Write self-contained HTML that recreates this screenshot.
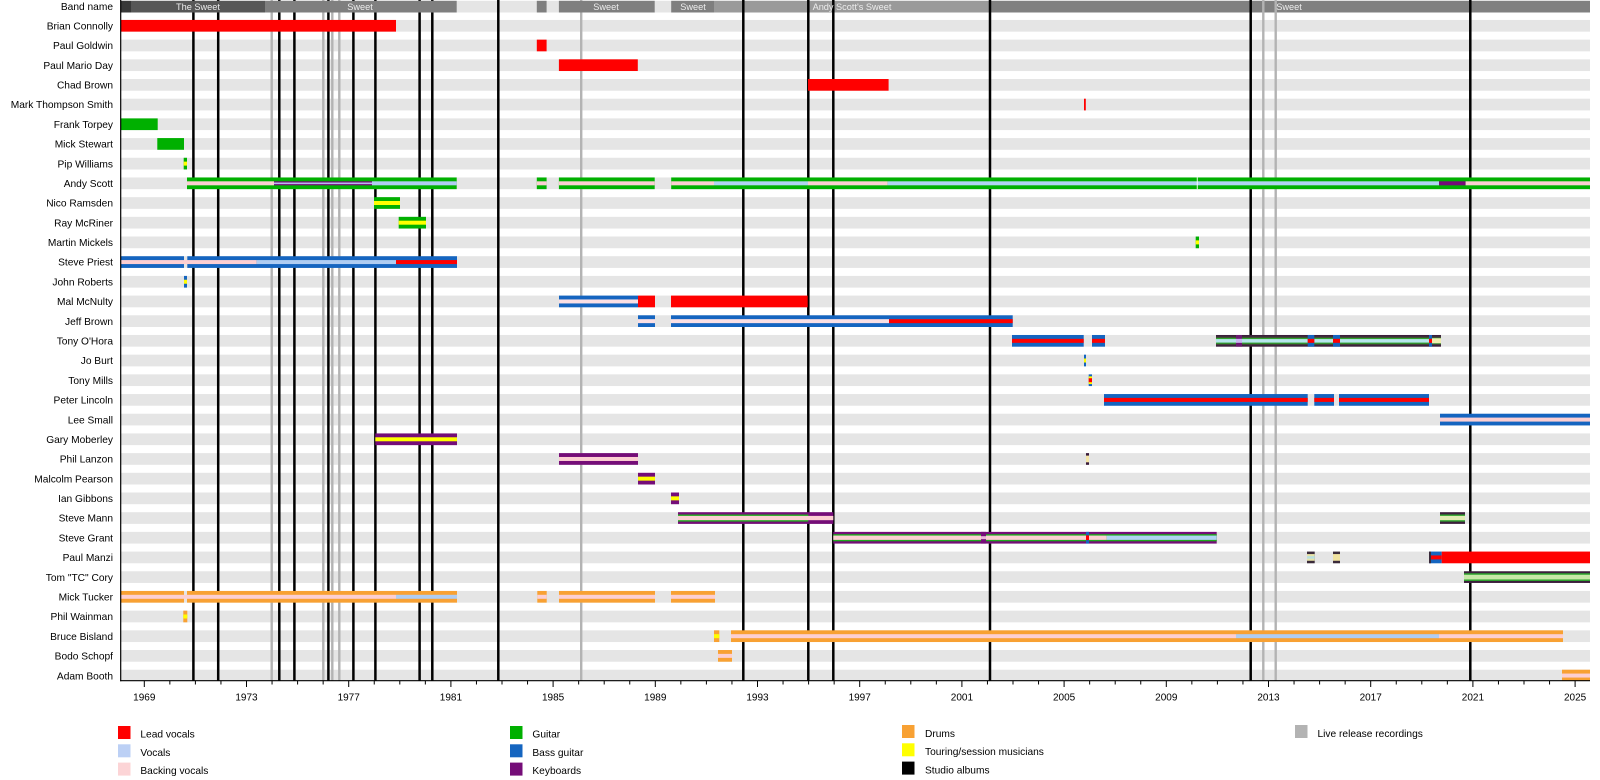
<!DOCTYPE html>
<html><head><meta charset="utf-8"><style>
html,body{margin:0;padding:0;background:#fff;}
svg{display:block;}
text{font-family:"Liberation Sans",Arial,sans-serif;}
</style></head><body>
<svg width="1600" height="780" viewBox="0 0 1600 780" xmlns="http://www.w3.org/2000/svg">
<rect width="1600" height="780" fill="#fff"/>
<!-- row bands -->
<g fill="#e5e5e5">
<rect x="120.7" y="0.8" width="1469.3" height="11.7"/>
<rect x="120.7" y="19.94" width="1469.3" height="11.7"/>
<rect x="120.7" y="39.63" width="1469.3" height="11.7"/>
<rect x="120.7" y="59.32" width="1469.3" height="11.7"/>
<rect x="120.7" y="79.01" width="1469.3" height="11.7"/>
<rect x="120.7" y="98.70" width="1469.3" height="11.7"/>
<rect x="120.7" y="118.39" width="1469.3" height="11.7"/>
<rect x="120.7" y="138.08" width="1469.3" height="11.7"/>
<rect x="120.7" y="157.77" width="1469.3" height="11.7"/>
<rect x="120.7" y="177.46" width="1469.3" height="11.7"/>
<rect x="120.7" y="197.15" width="1469.3" height="11.7"/>
<rect x="120.7" y="216.84" width="1469.3" height="11.7"/>
<rect x="120.7" y="236.53" width="1469.3" height="11.7"/>
<rect x="120.7" y="256.22" width="1469.3" height="11.7"/>
<rect x="120.7" y="275.91" width="1469.3" height="11.7"/>
<rect x="120.7" y="295.60" width="1469.3" height="11.7"/>
<rect x="120.7" y="315.29" width="1469.3" height="11.7"/>
<rect x="120.7" y="334.98" width="1469.3" height="11.7"/>
<rect x="120.7" y="354.67" width="1469.3" height="11.7"/>
<rect x="120.7" y="374.36" width="1469.3" height="11.7"/>
<rect x="120.7" y="394.05" width="1469.3" height="11.7"/>
<rect x="120.7" y="413.74" width="1469.3" height="11.7"/>
<rect x="120.7" y="433.43" width="1469.3" height="11.7"/>
<rect x="120.7" y="453.12" width="1469.3" height="11.7"/>
<rect x="120.7" y="472.81" width="1469.3" height="11.7"/>
<rect x="120.7" y="492.50" width="1469.3" height="11.7"/>
<rect x="120.7" y="512.19" width="1469.3" height="11.7"/>
<rect x="120.7" y="531.88" width="1469.3" height="11.7"/>
<rect x="120.7" y="551.57" width="1469.3" height="11.7"/>
<rect x="120.7" y="571.26" width="1469.3" height="11.7"/>
<rect x="120.7" y="590.95" width="1469.3" height="11.7"/>
<rect x="120.7" y="610.64" width="1469.3" height="11.7"/>
<rect x="120.7" y="630.33" width="1469.3" height="11.7"/>
<rect x="120.7" y="650.02" width="1469.3" height="11.7"/>
<rect x="120.7" y="669.71" width="1469.3" height="11.0"/>
</g>
<!-- band bars (later era, under lines) -->
<g transform="translate(0,0.8)">
<rect x="714" width="276.4" height="11.7" fill="#9a9a9a"/>
<rect x="990.4" width="599.6" height="11.7" fill="#808080"/>
</g>
<!-- vertical lines: live releases (gray) -->
<g stroke="#b3b3b3" stroke-width="2.4">
<line x1="271.7" y1="0" x2="271.7" y2="680.7"/>
<line x1="323.3" y1="0" x2="323.3" y2="680.7"/>
<line x1="332.3" y1="0" x2="332.3" y2="680.7"/>
<line x1="339.3" y1="0" x2="339.3" y2="680.7"/>
<line x1="581.2" y1="0" x2="581.2" y2="680.7"/>
<line x1="1263.3" y1="0" x2="1263.3" y2="680.7"/>
<line x1="1275.7" y1="0" x2="1275.7" y2="680.7"/>
</g>
<!-- studio albums (black) -->
<g stroke="#000" stroke-width="2.5">
<line x1="193.4" y1="0" x2="193.4" y2="680.7"/>
<line x1="218.2" y1="0" x2="218.2" y2="680.7"/>
<line x1="279.3" y1="0" x2="279.3" y2="680.7"/>
<line x1="294.4" y1="0" x2="294.4" y2="680.7"/>
<line x1="328.4" y1="0" x2="328.4" y2="680.7"/>
<line x1="353.4" y1="0" x2="353.4" y2="680.7"/>
<line x1="375.4" y1="0" x2="375.4" y2="680.7"/>
<line x1="419.6" y1="0" x2="419.6" y2="680.7"/>
<line x1="432.3" y1="0" x2="432.3" y2="680.7"/>
<line x1="498.3" y1="0" x2="498.3" y2="680.7"/>
<line x1="743.3" y1="0" x2="743.3" y2="680.7"/>
<line x1="808.3" y1="0" x2="808.3" y2="680.7"/>
<line x1="833.3" y1="0" x2="833.3" y2="680.7"/>
<line x1="990" y1="0" x2="990" y2="680.7"/>
<line x1="1250.7" y1="0" x2="1250.7" y2="680.7"/>
<line x1="1470.3" y1="0" x2="1470.3" y2="680.7"/>
</g>
<!-- band bars (early era, over lines) -->
<g transform="translate(0,0.8)">
<rect x="120.7" width="11" height="11.7" fill="#383838"/>
<rect x="131.7" width="133.3" height="11.7" fill="#575757"/>
<rect x="265" width="191.7" height="11.7" fill="#7f7f7f"/>
<rect x="536.8" width="9.8" height="11.7" fill="#7f7f7f"/>
<rect x="558.9" width="95.8" height="11.7" fill="#7f7f7f"/>
<rect x="671.2" width="42.8" height="11.7" fill="#7f7f7f"/>
</g>
<g font-size="9.2" fill="#ececec" text-anchor="middle">
<text x="198" y="10">The Sweet</text>
<text x="360" y="10">Sweet</text>
<text x="606" y="10">Sweet</text>
<text x="693" y="10">Sweet</text>
<text x="852" y="10">Andy Scott's Sweet</text>
<text x="1289" y="10">Sweet</text>
</g>

<!-- member bars -->
<!-- 1 Brian Connolly -->
<g transform="translate(0,19.94)"><rect x="120.7" width="275.3" height="11.7" fill="#ff0000"/></g>
<!-- 2 Paul Goldwin -->
<g transform="translate(0,39.63)"><rect x="536.8" width="9.8" height="11.7" fill="#ff0000"/></g>
<!-- 3 Paul Mario Day -->
<g transform="translate(0,59.32)"><rect x="558.9" width="78.9" height="11.7" fill="#ff0000"/></g>
<!-- 4 Chad Brown -->
<g transform="translate(0,79.01)"><rect x="808" width="80.6" height="11.7" fill="#ff0000"/></g>
<!-- 5 Mark Thompson Smith -->
<g transform="translate(0,98.70)"><rect x="1084" width="1.8" height="11.7" fill="#ff0000"/></g>
<!-- 6 Frank Torpey -->
<g transform="translate(0,118.39)"><rect x="120.7" width="37" height="11.7" fill="#00b000"/></g>
<!-- 7 Mick Stewart -->
<g transform="translate(0,138.08)"><rect x="157.3" width="26.7" height="11.7" fill="#00b000"/></g>
<!-- 8 Pip Williams -->
<g transform="translate(0,157.77)"><rect x="183.7" width="3.3" height="11.7" fill="#00b000"/><rect x="183.7" y="3.85" width="3.3" height="4" fill="#ffff00"/></g>
<!-- 9 Andy Scott -->
<g transform="translate(0,177.46)">
<g fill="#00b000">
<rect x="187" width="269.7" height="11.7"/>
<rect x="536.8" width="9.8" height="11.7"/>
<rect x="558.9" width="95.8" height="11.7"/>
<rect x="671.2" width="918.8" height="11.7"/>
</g>
<g transform="translate(0,3.85)">
<rect x="187" width="87" height="4" fill="#fccfd2"/>
<rect x="274" width="98" height="4" fill="#750d78"/>
<rect x="274" y="1.2" width="98" height="1.6" fill="#b8b8f0"/>
<rect x="372" width="84.7" height="4" fill="#b0cdf2"/>
<rect x="536.8" width="9.8" height="4" fill="#fccfd2"/>
<rect x="558.9" width="95.8" height="4" fill="#fccfd2"/>
<rect x="671.2" width="42.8" height="4" fill="#fccfd2"/>
<rect x="714" width="94" height="4" fill="#b0d4f2"/>
<rect x="808" width="79.6" height="4" fill="#fccfd2"/>
<rect x="887.6" width="551.4" height="4" fill="#b0d4f2"/>
<rect x="1439" width="26.6" height="4" fill="#750d78"/>
<rect x="1465.6" width="124.4" height="4" fill="#fccfd2"/>
</g>
<rect x="1196.8" width="0.9" height="11.7" fill="#ffffff"/>
</g>
<!-- 10 Nico Ramsden -->
<g transform="translate(0,197.15)"><rect x="374" width="26" height="11.7" fill="#00b000"/><rect x="374" y="3.85" width="26" height="4" fill="#ffff00"/></g>
<!-- 11 Ray McRiner -->
<g transform="translate(0,216.84)"><rect x="398.7" width="27.3" height="11.7" fill="#00b000"/><rect x="398.7" y="3.85" width="27.3" height="4" fill="#ffff00"/></g>
<!-- 12 Martin Mickels -->
<g transform="translate(0,236.53)"><rect x="1195.7" width="3.3" height="11.7" fill="#00b000"/><rect x="1195.7" y="3.85" width="3.3" height="4" fill="#ffff00"/></g>
<!-- 13 Steve Priest -->
<g transform="translate(0,256.22)">
<rect x="120.7" width="63.3" height="11.7" fill="#1565c0"/>
<rect x="187.3" width="269.7" height="11.7" fill="#1565c0"/>
<rect x="120.7" y="3.85" width="136" height="4" fill="#fccfd2"/>
<rect x="256.7" y="3.85" width="139.3" height="4" fill="#b0cdf2"/>
<rect x="396" y="3.85" width="61" height="4" fill="#ff0000"/>
</g>
<!-- 14 John Roberts -->
<g transform="translate(0,275.91)"><rect x="184" width="3" height="11.7" fill="#1565c0"/><rect x="184" y="3.85" width="3" height="4" fill="#ffff00"/></g>
<!-- 15 Mal McNulty -->
<g transform="translate(0,295.60)">
<rect x="559" width="79" height="11.7" fill="#1565c0"/><rect x="559" y="3.85" width="79" height="4" fill="#fbe0e4"/>
<rect x="638" width="17" height="11.7" fill="#ff0000"/>
<rect x="671" width="136.7" height="11.7" fill="#ff0000"/>
</g>
<!-- 16 Jeff Brown -->
<g transform="translate(0,315.29)">
<rect x="638" width="17" height="11.7" fill="#1565c0"/><rect x="638" y="3.85" width="17" height="4" fill="#fbe0e4"/>
<rect x="671" width="341.7" height="11.7" fill="#1565c0"/>
<rect x="671" y="3.85" width="218" height="4" fill="#fbe0e4"/>
<rect x="889" y="3.85" width="123.7" height="4" fill="#ff0000"/>
</g>
<!-- 17 Tony O'Hora -->
<g transform="translate(0,334.98)">
<rect x="1012" width="71.7" height="11.7" fill="#1565c0"/><rect x="1012" y="3.85" width="71.7" height="4" fill="#ff0000"/>
<rect x="1092" width="13" height="11.7" fill="#1565c0"/><rect x="1092" y="3.85" width="13" height="4" fill="#ff0000"/>
<rect x="1216" width="225" height="11.7" fill="#3c1f3c"/>
<rect x="1216" y="1.6" width="225" height="8.5" fill="#424238"/>
<rect x="1216" y="2.9" width="225" height="5.9" fill="#2ea52e"/>
<rect x="1216" y="4.1" width="225" height="3.5" fill="#b8e6ee"/>
<rect x="1236" width="6" height="11.7" fill="#6a1a70"/><rect x="1236" y="3.85" width="6" height="4" fill="#c8b8f0"/>
<rect x="1307.7" width="6.6" height="11.7" fill="#1565c0"/><rect x="1307.7" y="3.85" width="6.6" height="4" fill="#ff0000"/>
<rect x="1333" width="7" height="11.7" fill="#1565c0"/><rect x="1333" y="3.85" width="7" height="4" fill="#ff0000"/>
<rect x="1429" width="3" height="11.7" fill="#1565c0"/><rect x="1429" y="3.85" width="3" height="4" fill="#ff0000"/>
<rect x="1432" y="3.3" width="9" height="5" fill="#f0eeb0"/>
</g>
<!-- 18 Jo Burt -->
<g transform="translate(0,354.67)"><rect x="1084" width="2" height="11.7" fill="#1565c0"/><rect x="1084" y="3.85" width="2" height="4" fill="#ffff00"/></g>
<!-- 19 Tony Mills -->
<g transform="translate(0,374.36)"><rect x="1088.7" width="3.3" height="11.7" fill="#1565c0"/><rect x="1088.7" y="2" width="3.3" height="7.7" fill="#ffff00"/><rect x="1088.7" y="3.85" width="3.3" height="4" fill="#ff0000"/></g>
<!-- 20 Peter Lincoln -->
<g transform="translate(0,394.05)">
<rect x="1104" width="203.7" height="11.7" fill="#1565c0"/><rect x="1104" y="3.85" width="203.7" height="4" fill="#ff0000"/>
<rect x="1314.3" width="19.7" height="11.7" fill="#1565c0"/><rect x="1314.3" y="3.85" width="19.7" height="4" fill="#ff0000"/>
<rect x="1339" width="90" height="11.7" fill="#1565c0"/><rect x="1339" y="3.85" width="90" height="4" fill="#ff0000"/>
</g>
<!-- 21 Lee Small -->
<g transform="translate(0,413.74)"><rect x="1440" width="150" height="11.7" fill="#1565c0"/><rect x="1440" y="3.85" width="150" height="4" fill="#fccfd2"/></g>
<!-- 22 Gary Moberley -->
<g transform="translate(0,433.43)"><rect x="375.3" width="81.7" height="11.7" fill="#750d78"/><rect x="375.3" y="3.85" width="81.7" height="4" fill="#ffff00"/></g>
<!-- 23 Phil Lanzon -->
<g transform="translate(0,453.12)">
<rect x="559" width="79" height="11.7" fill="#750d78"/><rect x="559" y="3.85" width="79" height="4" fill="#fccfd2"/>
<rect x="1086" width="3" height="11.7" fill="#3a1a3a"/><rect x="1086" y="2.5" width="3" height="6.7" fill="#f5e6a8"/>
</g>
<!-- 24 Malcolm Pearson -->
<g transform="translate(0,472.81)"><rect x="638" width="17" height="11.7" fill="#750d78"/><rect x="638" y="3.85" width="17" height="4" fill="#ffff00"/></g>
<!-- 25 Ian Gibbons -->
<g transform="translate(0,492.50)"><rect x="671" width="8" height="11.7" fill="#750d78"/><rect x="671" y="3.85" width="8" height="4" fill="#ffff00"/></g>
<!-- 26 Steve Mann -->
<g transform="translate(0,512.19)">
<rect x="678" width="155.3" height="11.7" fill="#750d78"/>
<rect x="678" y="2.3" width="130.3" height="7.1" fill="#1faa1f"/>
<rect x="678" y="3.7" width="155.3" height="4.3" fill="#fccfd2"/>
<rect x="1440" width="25" height="11.7" fill="#3c1f3c"/>
<rect x="1440" y="2.3" width="25" height="7.1" fill="#2ea52e"/>
<rect x="1440" y="3.7" width="25" height="4.3" fill="#e2ecb4"/>
</g>
<!-- 27 Steve Grant -->
<g transform="translate(0,531.88)">
<rect x="833.3" width="383.4" height="11.7" fill="#750d78"/>
<rect x="833.3" y="2.3" width="383.4" height="7.1" fill="#1faa1f"/>
<rect x="833.3" y="3.7" width="273.4" height="4.3" fill="#fccfd2"/>
<rect x="1106.7" y="3.7" width="110" height="4.3" fill="#b0d4f2"/>
<rect x="981" width="5" height="11.7" fill="#750d78"/><rect x="981" y="4.3" width="5" height="3" fill="#e8b8d8"/>
<rect x="1086" width="3" height="11.7" fill="#1565c0"/><rect x="1086" y="3.5" width="3" height="4.7" fill="#ff0000"/>
</g>
<!-- 28 Paul Manzi -->
<g transform="translate(0,551.57)">
<rect x="1307" width="7.7" height="11.7" fill="#3a2a3a"/><rect x="1307" y="2.5" width="7.7" height="6.7" fill="#e8e4a8"/><rect x="1307" y="4.6" width="7.7" height="2.5" fill="#b8e0e0"/>
<rect x="1333" width="7" height="11.7" fill="#3a2a3a"/><rect x="1333" y="2.5" width="7" height="6.7" fill="#f0e2a0"/>
<rect x="1429" width="12.7" height="11.7" fill="#1565c0"/><rect x="1429" y="3.85" width="12.7" height="4" fill="#ff0000"/>
<rect x="1429" width="2" height="11.7" fill="#3a2a3a"/>
<rect x="1441.7" width="148.3" height="11.7" fill="#ff0000"/>
</g>
<!-- 29 Tom TC Cory -->
<g transform="translate(0,571.26)">
<rect x="1464" width="126" height="11.7" fill="#3c1f3c"/>
<rect x="1464" y="2" width="126" height="7.7" fill="#2ea52e"/>
<rect x="1464" y="3.5" width="126" height="4.7" fill="#c8e8a8"/>
</g>
<!-- 30 Mick Tucker -->
<g transform="translate(0,590.95)">
<g fill="#f8a133">
<rect x="120.7" width="63.3" height="11.7"/>
<rect x="187" width="270" height="11.7"/>
<rect x="537.3" width="9.4" height="11.7"/>
<rect x="559" width="96" height="11.7"/>
<rect x="671" width="44" height="11.7"/>
</g>
<g transform="translate(0,3.85)">
<rect x="120.7" width="275.3" height="4" fill="#fccfd2"/>
<rect x="396" width="61" height="4" fill="#b0cdf2"/>
<rect x="537.3" width="9.4" height="4" fill="#fccfd2"/>
<rect x="559" width="96" height="4" fill="#fccfd2"/>
<rect x="671" width="44" height="4" fill="#fccfd2"/>
</g>
</g>
<!-- 31 Phil Wainman -->
<g transform="translate(0,610.64)"><rect x="183.3" width="4" height="11.7" fill="#f8a133"/><rect x="183.3" y="3.85" width="4" height="4" fill="#ffff00"/></g>
<!-- 32 Bruce Bisland -->
<g transform="translate(0,630.33)">
<rect x="714" width="5.3" height="11.7" fill="#f8a133"/><rect x="714" y="3.85" width="5.3" height="4" fill="#ffff00"/>
<rect x="731" width="832" height="11.7" fill="#f8a133"/>
<rect x="731" y="3.85" width="505" height="4" fill="#fccfd2"/>
<rect x="1236" y="3.85" width="203" height="4" fill="#b0cdf2"/>
<rect x="1439" y="3.85" width="124" height="4" fill="#fccfd2"/>
</g>
<!-- 33 Bodo Schopf -->
<g transform="translate(0,650.02)"><rect x="718" width="14" height="11.7" fill="#f8a133"/><rect x="718" y="3.85" width="14" height="4" fill="#fccfd2"/></g>
<!-- 34 Adam Booth -->
<g transform="translate(0,669.71)"><rect x="1562" width="28" height="11.0" fill="#f8a133"/><rect x="1562" y="3.85" width="28" height="4" fill="#fccfd2"/></g>

<!-- axes -->
<line x1="120.7" y1="0" x2="120.7" y2="681.2" stroke="#000" stroke-width="1.2"/>
<line x1="120.2" y1="680.7" x2="1590" y2="680.7" stroke="#000" stroke-width="1.2"/>
<path stroke="#000" stroke-width="1" fill="none" d="M144.3 680.7V687M169.85 680.7V684.5M195.4 680.7V684.5M220.95 680.7V684.5M246.5 680.7V687M272.05 680.7V684.5M297.6 680.7V684.5M323.15 680.7V684.5M348.7 680.7V687M374.25 680.7V684.5M399.8 680.7V684.5M425.35 680.7V684.5M450.9 680.7V687M476.45 680.7V684.5M502 680.7V684.5M527.55 680.7V684.5M553.1 680.7V687M578.65 680.7V684.5M604.2 680.7V684.5M629.75 680.7V684.5M655.3 680.7V687M680.85 680.7V684.5M706.4 680.7V684.5M731.95 680.7V684.5M757.5 680.7V687M783.05 680.7V684.5M808.6 680.7V684.5M834.15 680.7V684.5M859.7 680.7V687M885.25 680.7V684.5M910.8 680.7V684.5M936.35 680.7V684.5M961.9 680.7V687M987.45 680.7V684.5M1013 680.7V684.5M1038.55 680.7V684.5M1064.1 680.7V687M1089.65 680.7V684.5M1115.2 680.7V684.5M1140.75 680.7V684.5M1166.3 680.7V687M1191.85 680.7V684.5M1217.4 680.7V684.5M1242.95 680.7V684.5M1268.5 680.7V687M1294.05 680.7V684.5M1319.6 680.7V684.5M1345.15 680.7V684.5M1370.7 680.7V687M1396.25 680.7V684.5M1421.8 680.7V684.5M1447.35 680.7V684.5M1472.9 680.7V687M1498.45 680.7V684.5M1524 680.7V684.5M1549.55 680.7V684.5M1575.1 680.7V687"/>
<g font-size="10" fill="#000" text-anchor="middle">
<text x="144.3" y="700.4">1969</text>
<text x="246.5" y="700.4">1973</text>
<text x="348.7" y="700.4">1977</text>
<text x="450.9" y="700.4">1981</text>
<text x="553.1" y="700.4">1985</text>
<text x="655.3" y="700.4">1989</text>
<text x="757.5" y="700.4">1993</text>
<text x="859.7" y="700.4">1997</text>
<text x="961.9" y="700.4">2001</text>
<text x="1064.1" y="700.4">2005</text>
<text x="1166.3" y="700.4">2009</text>
<text x="1268.5" y="700.4">2013</text>
<text x="1370.7" y="700.4">2017</text>
<text x="1472.9" y="700.4">2021</text>
<text x="1575.1" y="700.4">2025</text>
</g>

<!-- row labels -->
<g font-size="10.2" fill="#000" text-anchor="end">
<text x="113" y="10.1">Band name</text>
<text x="113" y="29.4">Brian Connolly</text>
<text x="113" y="49.1">Paul Goldwin</text>
<text x="113" y="68.8">Paul Mario Day</text>
<text x="113" y="88.5">Chad Brown</text>
<text x="113" y="108.2">Mark Thompson Smith</text>
<text x="113" y="127.9">Frank Torpey</text>
<text x="113" y="147.6">Mick Stewart</text>
<text x="113" y="167.3">Pip Williams</text>
<text x="113" y="187.0">Andy Scott</text>
<text x="113" y="206.6">Nico Ramsden</text>
<text x="113" y="226.3">Ray McRiner</text>
<text x="113" y="246.0">Martin Mickels</text>
<text x="113" y="265.7">Steve Priest</text>
<text x="113" y="285.4">John Roberts</text>
<text x="113" y="305.1">Mal McNulty</text>
<text x="113" y="324.8">Jeff Brown</text>
<text x="113" y="344.5">Tony O'Hora</text>
<text x="113" y="364.2">Jo Burt</text>
<text x="113" y="383.9">Tony Mills</text>
<text x="113" y="403.6">Peter Lincoln</text>
<text x="113" y="423.3">Lee Small</text>
<text x="113" y="443.0">Gary Moberley</text>
<text x="113" y="462.7">Phil Lanzon</text>
<text x="113" y="482.4">Malcolm Pearson</text>
<text x="113" y="502.0">Ian Gibbons</text>
<text x="113" y="521.7">Steve Mann</text>
<text x="113" y="541.4">Steve Grant</text>
<text x="113" y="561.1">Paul Manzi</text>
<text x="113" y="580.8">Tom "TC" Cory</text>
<text x="113" y="600.5">Mick Tucker</text>
<text x="113" y="620.2">Phil Wainman</text>
<text x="113" y="639.9">Bruce Bisland</text>
<text x="113" y="659.6">Bodo Schopf</text>
<text x="113" y="679.3">Adam Booth</text>
</g>

<!-- legend -->
<g>
<rect x="118" y="726" width="12.5" height="13" fill="#ff0000"/>
<rect x="118" y="744.3" width="12.5" height="13" fill="#bcd0f5"/>
<rect x="118" y="762.6" width="12.5" height="13" fill="#fcd4d6"/>
<rect x="510" y="726" width="12.5" height="13" fill="#00b000"/>
<rect x="510" y="744.3" width="12.5" height="13" fill="#1565c0"/>
<rect x="510" y="762.6" width="12.5" height="13" fill="#750d78"/>
<rect x="902" y="725" width="12.5" height="13" fill="#f8a133"/>
<rect x="902" y="743.3" width="12.5" height="13" fill="#ffff00"/>
<rect x="902" y="761.6" width="12.5" height="13" fill="#000000"/>
<rect x="1295" y="725" width="12.5" height="13" fill="#b3b3b3"/>
</g>
<g font-size="10.2" fill="#000">
<text x="140.4" y="737.6">Lead vocals</text>
<text x="140.4" y="755.9">Vocals</text>
<text x="140.4" y="774.2">Backing vocals</text>
<text x="532.4" y="737.6">Guitar</text>
<text x="532.4" y="755.9">Bass guitar</text>
<text x="532.4" y="774.2">Keyboards</text>
<text x="925" y="736.8">Drums</text>
<text x="925" y="755.1">Touring/session musicians</text>
<text x="925" y="773.4">Studio albums</text>
<text x="1317.5" y="736.8">Live release recordings</text>
</g>
</svg>
</body></html>
